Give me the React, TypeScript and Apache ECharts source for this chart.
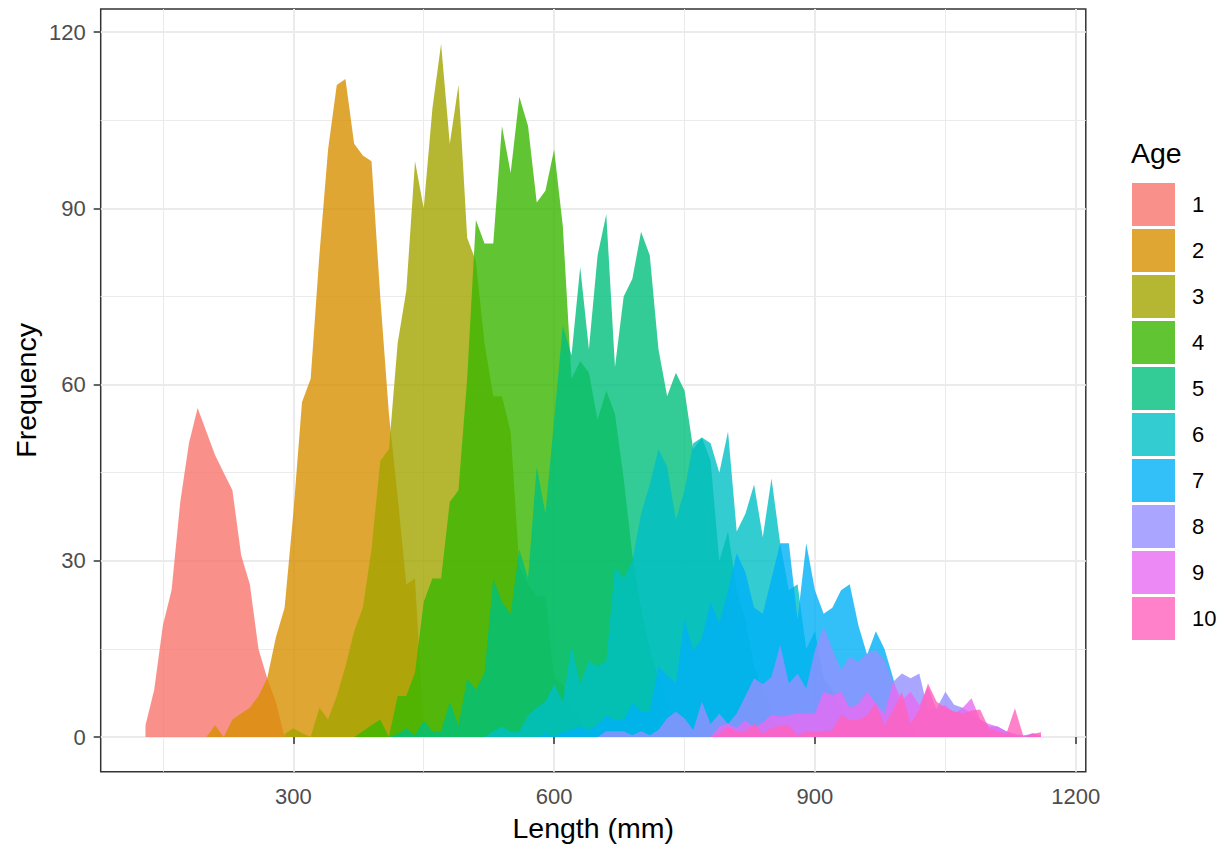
import React, { useEffect, useRef } from "react";
import * as echarts from "echarts";

// Length bins are 10 mm wide; each age lists its first bin and its counts.
const ageLabels = ["1", "2", "3", "4", "5", "6", "7", "8", "9", "10"];
const ageColors = ["#F8766D", "#D89000", "#A3A500", "#39B600", "#00BF7D", "#00BFC4", "#00B0F6", "#9590FF", "#E76BF3", "#FF62BC"];
const binWidth = 10;

const age1Start = 130;
const age1Counts = [2, 8, 19, 25, 40, 50, 56, 52, 48, 45, 42, 31, 26, 15, 10, 6, 0];

const age2Start = 200;
const age2Counts = [0, 2, 0, 3, 4, 5, 7, 10, 17, 22, 38, 57, 61, 82, 100, 111, 112, 101, 99, 98, 75, 55, 41, 26, 27, 1];

const age3Start = 290;
const age3Counts = [0.5, 1.5, 0.7, 0, 5, 3, 7, 12, 18, 22, 32, 47, 49, 67, 76, 98, 90, 107, 118, 101, 111, 85, 81, 67, 58, 58, 52, 29, 26, 24, 24, 10, 9, 5, 3, 0];

const age4Start = 370;
const age4Counts = [0, 1, 2, 3, 0, 7, 7, 11, 23, 27, 27, 40, 42, 61, 88, 84, 84, 104, 96, 109, 104, 91, 93, 100, 87, 61, 64, 62, 54, 59, 55, 44, 31, 22, 15, 10, 6, 3, 1, 0];

const age5Start = 410;
const age5Counts = [0, 0.5, 1.5, 0.3, 2.8, 1, 1, 6, 2, 10, 8, 11, 27, 23, 21, 32, 27, 46, 38, 54, 70, 65, 80, 66, 82, 89, 63, 75, 78, 86, 82, 66, 58, 62, 59, 49, 51, 47, 30, 35, 25, 20, 12, 8, 4, 0];

const age6Start = 520;
const age6Counts = [0, 1, 1.8, 0.9, 0.9, 3.7, 5, 6, 9, 6, 15.6, 9, 13, 12, 13, 29, 27, 30, 38, 43, 49, 46, 37, 42, 50, 51, 50, 45, 52, 35, 38, 43, 34, 44, 33, 25, 26, 15, 18, 10, 8, 5, 3, 2, 0];

const age7Start = 580;
const age7Counts = [0, 0.6, 0, 0.9, 1.2, 1.8, 1.2, 2, 3.7, 2.9, 2.9, 5.8, 4.4, 4.4, 12, 10.5, 9.2, 20, 14.7, 16.8, 23, 19.4, 25, 31.3, 28, 22, 21, 27, 33, 33, 20, 33, 25, 21, 22, 25, 26, 19, 14, 18, 15, 10, 4, 2, 0];

const age8Start = 650;
const age8Counts = [0, 1, 1, 1, 0.3, 1, 0.3, 1.2, 3.2, 4.3, 3.2, 1.2, 6, 2.2, 4, 2.2, 4, 7, 10, 9, 10.2, 15.7, 9.1, 10.8, 8.2, 14.8, 18.8, 15, 11.4, 13.7, 12.8, 14.2, 14.8, 13.1, 9.4, 10.8, 10, 10.8, 4.6, 4.9, 7.7, 5.5, 5, 4, 3, 1.8, 1.8, 1, 0.5, 0.3, 0.5, 0];

const age9Start = 780;
const age9Counts = [0, 1.8, 2.3, 1.5, 2.9, 1.5, 2.5, 3.7, 3.5, 3.7, 4, 4, 4, 7.7, 7.1, 7.7, 4.9, 5.7, 7.7, 5.7, 4, 9.4, 6.3, 7.7, 5.4, 8.6, 4.5, 5.5, 4, 5, 6.6, 3, 2.2, 1.8, 1, 0.3, 0, 0.7, 0.3];

const age10Start = 780;
const age10Counts = [0, 0.6, 1.8, 0.9, 0.9, 2.3, 0.6, 1.5, 1.9, 1.9, 0.3, 0.9, 0.9, 0.9, 1.2, 3.7, 2.9, 2.9, 3.7, 5.7, 2, 4.6, 7.7, 2.3, 4.6, 9.1, 6, 5, 4.4, 4, 4.5, 4.7, 1.5, 1, 0.5, 4.9, 0, 0.5, 0.8];

const ageStarts = [age1Start, age2Start, age3Start, age4Start, age5Start, age6Start, age7Start, age8Start, age9Start, age10Start];
const ageCounts = [age1Counts, age2Counts, age3Counts, age4Counts, age5Counts, age6Counts, age7Counts, age8Counts, age9Counts, age10Counts];

const xMajorTicks = [300, 600, 900, 1200];
const xMinorTicks = [150, 450, 750, 1050];
const yMajorTicks = [0, 30, 60, 90, 120];
const yMinorTicks = [15, 45, 75, 105];

const xMin = 78.5;
const xMax = 1211.5;
const yMin = -5.9;
const yMax = 123.9;

const FONT = "'Liberation Sans', Arial, Helvetica, sans-serif";

function withAlpha(hex: string, a: number) {
  const r = parseInt(hex.slice(1, 3), 16);
  const g = parseInt(hex.slice(3, 5), 16);
  const b = parseInt(hex.slice(5, 7), 16);
  return `rgba(${r},${g},${b},${a})`;
}

const GRID = { left: 100.7, top: 9.1, width: 985.1, height: 762.6 };

export default function App() {
  const ref = useRef<HTMLDivElement>(null);
  useEffect(() => {
    if (!ref.current) return;
    const chart = echarts.init(ref.current, undefined, { renderer: "svg" });

    const series = ageLabels.map((name, i) => {
      const data = ageCounts[i].map((c, k) => [ageStarts[i] + k * binWidth, c]);
      const col = withAlpha(ageColors[i], 0.8);
      return {
        type: "line",
        name,
        data,
        xAxisIndex: 0,
        yAxisIndex: 0,
        symbol: "none",
        showSymbol: false,
        silent: true,
        lineStyle: { width: 0, opacity: 0 },
        itemStyle: { color: col },
        areaStyle: { color: col, opacity: 1, origin: 0 },
      };
    });

    const legendItems: any[] = [];
    legendItems.push({
      type: "text",
      x: 1131,
      y: 153,
      style: { text: "Age", font: `28.5px ${FONT}`, fill: "#000", textAlign: "left", textVerticalAlign: "middle" },
    });
    ageLabels.forEach((name, i) => {
      legendItems.push({
        type: "rect",
        shape: { x: 1132, y: 183 + 46 * i, width: 43, height: 43 },
        style: { fill: withAlpha(ageColors[i], 0.8) },
      });
      legendItems.push({
        type: "text",
        x: 1192,
        y: 204.5 + 46 * i,
        style: { text: name, font: `22px ${FONT}`, fill: "#000", textAlign: "left", textVerticalAlign: "middle" },
      });
    });

    const axisCommon = {
      type: "value",
      axisLine: { show: false },
    };
    const plain = (v: number) => String(v);

    chart.setOption({
      animation: false,
      backgroundColor: "#fff",
      grid: {
        left: GRID.left,
        top: GRID.top,
        width: GRID.width,
        height: GRID.height,
        show: true,
        borderColor: "#333333",
        borderWidth: 1.5,
        backgroundColor: "transparent",
      },
      xAxis: [
        {
          ...axisCommon,
          min: xMin,
          max: xMax,
          position: "bottom",
          axisTick: { show: true, length: 7, customValues: xMajorTicks, lineStyle: { color: "#333333", width: 1.5 } },
          axisLabel: { customValues: xMajorTicks, formatter: plain, color: "#4D4D4D", fontSize: 22, fontFamily: FONT, margin: 14 },
          splitLine: { show: true, lineStyle: { color: "#EBEBEB", width: 2 } },
        },
        {
          ...axisCommon,
          min: xMin,
          max: xMax,
          position: "top",
          axisTick: { show: false, customValues: xMinorTicks },
          axisLabel: { show: false, customValues: xMinorTicks },
          splitLine: { show: true, lineStyle: { color: "#EBEBEB", width: 1 } },
        },
      ],
      yAxis: [
        {
          ...axisCommon,
          min: yMin,
          max: yMax,
          position: "left",
          axisTick: { show: true, length: 7, customValues: yMajorTicks, lineStyle: { color: "#333333", width: 1.5 } },
          axisLabel: { customValues: yMajorTicks, formatter: plain, color: "#4D4D4D", fontSize: 22, fontFamily: FONT, margin: 15 },
          splitLine: { show: true, lineStyle: { color: "#EBEBEB", width: 2 } },
        },
        {
          ...axisCommon,
          min: yMin,
          max: yMax,
          position: "right",
          axisTick: { show: false, customValues: yMinorTicks },
          axisLabel: { show: false, customValues: yMinorTicks },
          splitLine: { show: true, lineStyle: { color: "#EBEBEB", width: 1 } },
        },
      ],
      series,
      graphic: [
        {
          type: "text",
          x: GRID.left + GRID.width / 2,
          y: 828,
          style: { text: "Length (mm)", font: `28.5px ${FONT}`, fill: "#000", textAlign: "center", textVerticalAlign: "middle" },
        },
        {
          type: "text",
          x: 26,
          y: GRID.top + GRID.height / 2,
          rotation: Math.PI / 2,
          style: { text: "Frequency", font: `28.5px ${FONT}`, fill: "#000", textAlign: "center", textVerticalAlign: "middle" },
        },
        ...legendItems,
      ],
    } as any);

    return () => chart.dispose();
  }, []);

  return (
    <div
      ref={ref}
      style={{ position: "fixed", left: 0, top: 0, width: 1226, height: 850, background: "#fff" }}
    />
  );
}
